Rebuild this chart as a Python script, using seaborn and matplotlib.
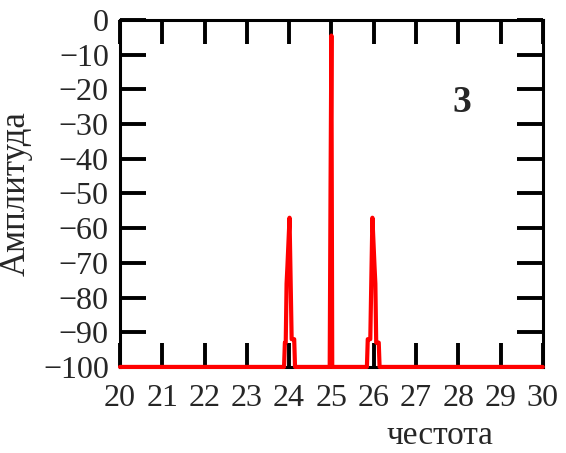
import numpy as np
import pandas as pd
import matplotlib
matplotlib.use('Agg')
import matplotlib.pyplot as plt
import seaborn as sns

# spectrum (frequency, amplitude)
freq = [20.0,
        23.88, 23.90, 23.92, 23.94, 23.96, 24.01, 24.06, 24.12, 24.14,
        24.96, 24.98, 25.00, 25.02,
        25.84, 25.86, 25.92, 25.97, 26.02, 26.04, 26.06, 26.12, 26.14,
        30.0]
amp = [-100,
       -100, -93, -93, -76, -71, -57, -92, -92, -100,
       -100, -48, -4.5, -100,
       -100, -92, -92, -57, -71, -76, -93, -93, -100,
       -100]

xticks = list(range(20, 31))
yticks = list(range(-100, 1, 10))

df = pd.DataFrame({'freq': freq, 'amp': amp})

sns.set_style('white')
plt.rcParams['font.family'] = ['Liberation Serif', 'DejaVu Serif']

fig = plt.figure(figsize=(5.66, 4.53), dpi=100)
ax = fig.add_axes([0.212, 0.190, 0.747, 0.766])

sns.lineplot(data=df, x='freq', y='amp', estimator=None, sort=False,
             color='red', linewidth=3.0, ax=ax, zorder=5, clip_on=False)

ax.set_xlim(20, 30)
ax.set_ylim(-100, 0)
ax.set_xticks(xticks)
ax.set_yticks(yticks)
ax.tick_params(direction='in', length=19, width=2.8, color='black',
               labelsize=23, top=True, right=True, bottom=True, left=True,
               pad=8)
ax.tick_params(axis='x', length=17, pad=12)
for s in ax.spines.values():
    s.set_color('black')
    s.set_linewidth(2.2)

ax.set_xlabel('честота', fontsize=24)
ax.xaxis.set_label_coords(0.757, -0.153)
ax.set_ylabel('Амплитуда', fontsize=25)
ax.yaxis.set_label_coords(-0.206, 0.5)

ax.text(0.809, 0.761, '3', transform=ax.transAxes, fontsize=27,
        fontweight='bold', ha='center', va='center')

fig.savefig('out.png', dpi=100)
